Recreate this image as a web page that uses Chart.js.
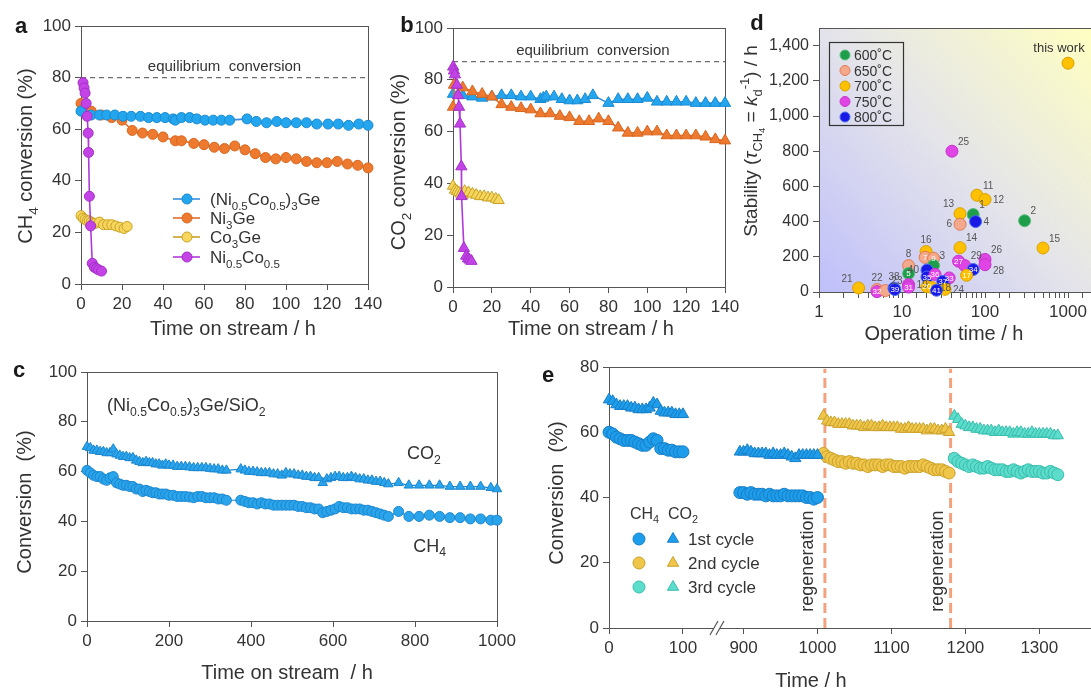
<!DOCTYPE html>
<html>
<head>
<meta charset="utf-8">
<script src="https://cdn.jsdelivr.net/npm/chart.js@4.4.1/dist/chart.umd.min.js"></script>
<style>
  html, body { margin:0; padding:0; background:#fff; width:1091px; height:692px; overflow:hidden; }
  canvas { position:absolute; left:0; top:0; }
</style>
</head>
<body>
<canvas id="panelA" width="1120" height="692"></canvas>
<canvas id="panelB" width="1120" height="692"></canvas>
<canvas id="panelC" width="1120" height="692"></canvas>
<canvas id="panelD" width="1120" height="692"></canvas>
<canvas id="panelE" width="1120" height="692"></canvas>
<script>
// ---------------- data ----------------
// a: CH4 conversion (%) vs time on stream (h)
const aTime_NiCoGe = [0,5,9,12.5,16.5,20.5,24.5,29,33,37,41,45,46,49,53,56.5,60.5,64.5,68.5,72.5,81,85.5,90.5,95.5,100,105,110,115,120.5,125.5,130.5,135.5,140];
const aCH4_NiCoGe  = [67,65.5,65.5,65.5,65.5,65,65,65,64.5,64.5,64.5,64,63.5,64.5,64.5,64,63.5,63.5,63.5,63.5,64,63,62.5,63,62.5,62.5,62.5,62,62,62,61.5,62,61.5];
const aTime_Ni3Ge  = [0,2,5,10,15,20,25,30,35,40,46,49,55,60,65,70,75,80,85,90,95,100,105,110,115,120,125,130,135,140];
const aCH4_Ni3Ge   = [70,68.5,67,65.5,64.5,63.5,59.5,58.5,58,57,55.5,55.5,54.5,54,53,52.5,53.5,52,50.5,49,48.5,49,48.5,47.5,47,47,47.5,46.5,46,45];
const aTime_Co3Ge  = [0,1,2,3,4,5,6,7,9,11,13,15,17,19,21,22.5];
const aCH4_Co3Ge   = [26.5,25.5,25,24.5,24.5,24,23.5,23.5,24,23,23,23,22.5,22,21.5,22.3];
const aTime_NiCo   = [1,1.5,2,2.5,3,3.5,3.7,4.1,4.7,5.5,6.5,7.5,8.5,10];
const aCH4_NiCo    = [78,76,74,70,65,58.5,51,34,22.5,8,6.5,6,5.5,5];
const eqCH4 = 80;

// b: CO2 conversion (%) vs time on stream (h)
const bTime_NiCoGe = [0,5,10,15,20,25,30,35,40,45,46.5,48,52,56,60,64,68,72,80,85,90,95,100,105,110,115,120,125,130,135,140];
const bCO2_NiCoGe  = [74.5,74,73.5,73,73.5,74,74,73.5,73.5,72.5,73,73.5,73.5,72.5,72,72,72.5,74,71,72.5,72.5,72.5,73,71.5,71.5,71.5,71.5,71,71,71,71];
const bTime_Ni3Ge  = [0,0.5,5,10,15,20,25,30,35,40,45,50,55,60,65,70,75,80,85,90,95,100,105,110,115,120,125,130,135,140];
const bCO2_Ni3Ge   = [69.5,78,77,75.5,74.5,73.5,70.5,69.5,69,68.5,67,67,66,65.5,64,64,65,64,61.5,59.5,59.5,60,60,58.5,58.5,58.5,58.5,58,57,56.5];
const bTime_Co3Ge  = [0,1,2,3,4,5,6,8,10,12,14,16,18,20,22,23.5];
const bCO2_Co3Ge   = [39,37.5,37,36.5,36,35.5,37,36.5,36,35.5,35,35,34.5,34.5,34,33.5];
const bTime_NiCo   = [0.1,0.5,1,2,2.6,3.1,3.6,4.3,4.4,5.6,6.8,7.7,8.5,9.5];
const bCO2_NiCo    = [85,83.5,82,78,74,69.5,63,46.5,35,15,12,11,10.5,10];
const eqCO2 = 87;

const catalystNames = ['(Ni_{0.5}Co_{0.5})_{3}Ge', 'Ni_{3}Ge', 'Co_{3}Ge', 'Ni_{0.5}Co_{0.5}'];

// c: 1000 h run of (Ni0.5Co0.5)3Ge/SiO2
const cTime = [0,8,16,24,32,40,48,56,64,72,80,88,96,104,112,120,128,136,144,152,160,168,176,184,192,200,210,220,230,240,250,260,270,280,290,300,310,320,330,340,375,385,395,405,415,425,435,445,455,465,475,485,495,505,515,525,535,545,555,565,575,585,595,605,615,625,635,645,655,665,675,685,695,705,715,725,735,760,785,810,835,860,885,910,935,960,985,1000];
const cCO2  = [70,69.5,68.5,68.5,68,68,67.5,67.5,69,67,66.5,66,66,65.5,65.5,64.5,64,63.5,64,63.5,63.5,63,63,62.5,63,62.5,62.5,62,62,62,61.8,61.5,61.5,61.5,61.5,61.2,61,61,60.5,60.5,61,60.5,60,60,59.8,59.5,59.5,59.5,59,59,58.5,59.5,59,59,58.5,58.5,58,58,57.5,57.5,55.5,57,57.5,58,58,57.5,57.5,58,57.5,57,57,56.5,56.5,56,56,55.5,55,55.5,54.5,54.5,54.5,54.5,54,54,54,54,53.5,53];
const cCH4  = [60.5,59.5,58.5,58,58,57,56.5,57.5,58,55.5,55,54.5,54.5,54,54,53,53,52,52.5,52,51.5,51.5,51,51,51,50.5,50.5,50,50,50,49.8,49.5,50,50,49.5,49.5,49.5,49,49,48.5,48.5,48,47.5,47.5,47,47.5,47,47,46.5,46.5,46.5,46.5,46.5,46.5,46,46,45.5,45.5,45,45,43.5,44,44.5,45,46,45.5,45.5,45,45,45,44.5,44.5,44,43.5,43,42.5,42,44,42,42,42.5,42,41.5,41.5,41,41,40.5,40.5];

// d: stability vs operation time for reported catalysts
const dTime      = [1000,40,80,100,50,72,77,50,300,500,50,19.5,19,24,24,12,12,20,20,25,100,100,48,57,72,60,37,31,12,12,20,23,33,26,3,5,5,6.3,8,8.2];
const dStability = [1300,800,550,525,445,440,400,385,405,250,252,230,197,192,150,150,105,125,85,100,185,155,175,150,128,95,80,60,42,28,30,25,15,10,23,14,2,8,22,14];
const dTemp      = [700,750,700,700,700,600,800,650,600,700,700,700,650,650,600,650,600,800,800,750,750,750,750,750,800,700,750,800,750,750,700,700,700,800,700,650,750,650,800,800];
const dRef       = ['this work','25','11','12','13','1','4','6','2','15','14','16','7','9','3','8','5','40','35','36','26','28','27','29','34','17','33','37','19','31','20','18','24','41','21','22','32','23','38','39'];
const dTemps     = [600,650,700,750,800];
const dStabilityTicks = [0,200,400,600,800,1000,1200,1400];
const dTimeLabels = [1,10,100,1000];

// e: regeneration cycles
const e1Time_a = [0,5,10,15,20,25,30,35,40,45,50,55,60,65,70,75,80,85,90,95,100];
const e1CH4_a  = [60,59.5,58.5,58,57.5,57.5,57.5,57,56.5,56,56,57,58,57.5,55,55,54.5,54.5,54,54,54];
const e1CO2_a  = [70,69.5,68.5,68,68,68,67.5,67.5,67,67,67,67.5,69,68.5,66.5,66,66,66,65.5,65.5,65.5];
const e1Time_b = [895,900,905,910,915,920,925,930,935,940,945,950,955,960,965,970,975,980,985,990,995,1000];
const e1CH4_b  = [41.5,41.5,41,41.5,41,41,41,40.5,41,40.5,40.5,40.5,41,40.5,40.5,40.5,40.5,40.5,40,40,39.5,40];
const e1CO2_b  = [54,54,54.5,54,53.5,53.5,53.5,53.5,53,53.5,53,53,53.5,53,52.5,52,53,53,53,53,53,53];
const e2Time   = [1008,1013,1018,1023,1028,1033,1038,1043,1048,1053,1058,1063,1068,1073,1078,1083,1088,1093,1098,1103,1108,1113,1118,1123,1128,1133,1138,1143,1148,1153,1158,1163,1168,1173,1178];
const e2CH4    = [53.5,52.5,52,51.5,51,51,50.5,51,50.5,50.5,50,50,49.5,50,50,50,49.5,50,50,49.5,49.5,49.5,49,49.5,49.5,49.5,49.5,50,49.5,49,48.5,48.5,48.5,48,47.5];
const e2CO2    = [65,63.5,63,63,62.5,62.5,62.5,62.5,62,62,62,61.5,62,62,61.5,61.5,62,61.5,61.5,61.5,61.5,61,61,61.5,61,61,61,61,60.5,61,61,60.5,60.5,61,60];
const e3Time   = [1185,1190,1195,1200,1205,1210,1215,1220,1225,1230,1235,1240,1245,1250,1255,1260,1265,1270,1275,1280,1285,1290,1295,1300,1305,1310,1315,1320,1325];
const e3CH4    = [52,51,50.5,50,49.5,50,49.5,49,49,49.5,49,48.5,48.5,48.5,48,48,48.5,48,47.5,48,48.5,48,48,48,47.5,47.5,48,47.5,47];
const e3CO2    = [65,64,62.5,62,61.5,61.5,61,61,60.5,60.5,60.5,60,60.5,60,60,60,59.5,60,60,59.5,59.5,60,59.5,59.5,59.5,59.5,59.5,59,59];
const eRegenTimes = [1010, 1180];
const eTickHours  = [0,100,900,1000,1100,1200,1300];
const eCycleNames = ['1st cycle','2nd cycle','3rd cycle'];

// ---------------- styling helpers ----------------
const FONT = '"Liberation Sans", Arial, Helvetica, sans-serif';
const TXT = '#333333';
const AX = '#555555';
const CW = 1120, CH = 692, YW = 50, XH = 30;

const colBlue   = {fill:'#23A6EE', edge:'#1A8AD3', line:'#3A8EDB'};
const colOrange = {fill:'#EE7A30', edge:'#D8661F', line:'#E07030'};
const colYellow = {fill:'#F7D65E', edge:'#C9A226', line:'#C9A226'};
const colPurple = {fill:'#C443E6', edge:'#A52FCB', line:'#B03AD8'};
const tempColors = {600:{fill:'#1E9E4A',edge:'#5DBB7E'},650:{fill:'#F4A98C',edge:'#E07A52'},700:{fill:'#FFC000',edge:'#D9A200'},750:{fill:'#E044E4',edge:'#C636CC'},800:{fill:'#1919E6',edge:'#4A6EF2'}};
const cycleColors = [{fill:'#1E9DEA',edge:'#177EC8'},{fill:'#F0C64A',edge:'#C9A12A'},{fill:'#5CDCCB',edge:'#39BDAE'}];

// break in the time axis of panel e: hours from 900 on are shifted left
function axisPos(t){ return t <= 500 ? t : t - 900 + 182; }

function pts(xs, ys){ return xs.map((x,i)=>({x, y:ys[i]})); }

function parseRich(s){
  const runs=[]; let i=0, buf='';
  const map={'_':'sub','^':'sup','*':'it','~':'subsub'};
  while(i<s.length){
    const c=s[i];
    if(map[c] && s[i+1]==='{'){
      if(buf) runs.push({t:buf,m:'n'}); buf='';
      const j=s.indexOf('}',i+2);
      runs.push({t:s.slice(i+2,j), m:map[c]});
      i=j+1;
    } else { buf+=c; i++; }
  }
  if(buf) runs.push({t:buf,m:'n'});
  return runs;
}
function drawRich(ctx, s, x, y, size, align, color, weight){
  align = align||'center'; color = color||TXT; weight = weight||'normal';
  const runs = parseRich(s).map(r=>{
    let sz=size, dy=0, st='';
    if(r.m==='sub'){ sz=size*0.68; dy=size*0.27; }
    if(r.m==='subsub'){ sz=size*0.5; dy=size*0.42; }
    if(r.m==='sup'){ sz=size*0.68; dy=-size*0.4; }
    if(r.m==='it'){ st='italic '; }
    return Object.assign(r,{font:`${st}${weight} ${sz}px ${FONT}`, dy});
  });
  ctx.save();
  ctx.fillStyle=color; ctx.textBaseline='alphabetic'; ctx.textAlign='left';
  let w=0; runs.forEach(r=>{ ctx.font=r.font; r.w=ctx.measureText(r.t).width; w+=r.w; });
  let cx = align==='center' ? x-w/2 : (align==='right' ? x-w : x);
  const base = y + size*0.36;
  runs.forEach(r=>{ ctx.font=r.font; ctx.fillText(r.t, cx, base+r.dy); cx+=r.w; });
  ctx.restore();
}
function drawRichRot(ctx, s, x, y, size, color){
  ctx.save(); ctx.translate(x,y); ctx.rotate(-Math.PI/2);
  drawRich(ctx, s, 0, 0, size, 'center', color);
  ctx.restore();
}
function marker(ctx, style, r, x, y, fill, edge, bw){
  ctx.save(); ctx.fillStyle=fill; ctx.strokeStyle=edge; ctx.lineWidth=bw||1;
  Chart.helpers.drawPoint(ctx, {pointStyle:style, radius:r, borderWidth:bw||1, rotation:0}, x, y);
  ctx.restore();
}
function panelLetter(ctx, ch, x, y){
  ctx.save(); ctx.fillStyle='#1a1a1a'; ctx.font=`bold 22px ${FONT}`;
  ctx.textAlign='center'; ctx.textBaseline='middle'; ctx.fillText(ch, x, y); ctx.restore();
}

function axis(type, min, max, step, extra){
  return Object.assign({
    type, min, max,
    ticks:{stepSize:step, color:TXT, font:{family:FONT,size:17}, padding:4, autoSkip:false, maxRotation:0, minRotation:0,
      callback: v => String(v)},
    grid:{drawOnChartArea:false, drawTicks:true, tickLength:6, tickColor:AX, tickWidth:1},
    border:{display:true, color:AX, width:1}
  }, extra||{});
}

const framePlugin = {
  id:'frame',
  beforeDatasetsDraw(chart){
    const a=chart.chartArea, ctx=chart.ctx;
    ctx.save(); ctx.strokeStyle=AX; ctx.lineWidth=1;
    ctx.strokeRect(Math.round(a.left)+0.5, Math.round(a.top)+0.5, Math.round(a.right-a.left), Math.round(a.bottom-a.top));
    ctx.restore();
  }
};

function makeChart(id, area, datasets, scales, plugins){
  scales.x.afterFit = s => { s.height = XH; };
  scales.y.afterFit = s => { s.width = YW; };
  return new Chart(document.getElementById(id), {
    type:'scatter',
    data:{datasets},
    options:{
      responsive:false, animation:false, devicePixelRatio:1, events:[],
      layout:{padding:{left:area.l-YW, top:area.t, right:CW-area.r, bottom:CH-area.b-XH}},
      plugins:{legend:{display:false}, tooltip:{enabled:false}},
      scales
    },
    plugins:[framePlugin].concat(plugins||[])
  });
}

function lineSeries(xs, ys, col, style, r){
  return {data:pts(xs,ys), showLine:true, borderColor:col.line, borderWidth:1.6,
    pointBackgroundColor:col.fill, pointBorderColor:col.edge, pointBorderWidth:1,
    pointRadius:r, pointStyle:style, clip:false};
}
function eqLine(x0, x1, v){
  return {data:[{x:x0,y:v},{x:x1,y:v}], showLine:true, borderColor:'#6e6e6e', borderWidth:1.2, borderDash:[5,4], pointRadius:0, clip:false};
}
const seriesCols = [colBlue, colOrange, colYellow, colPurple];

// ---------------- panel a ----------------
makeChart('panelA', {l:81, t:26, r:368, b:284}, [
  lineSeries(aTime_NiCo, aCH4_NiCo, colPurple, 'circle', 5),
  lineSeries(aTime_NiCoGe, aCH4_NiCoGe, colBlue, 'circle', 5),
  lineSeries(aTime_Ni3Ge, aCH4_Ni3Ge, colOrange, 'circle', 5),
  lineSeries(aTime_Co3Ge, aCH4_Co3Ge, colYellow, 'circle', 5),
  eqLine(0, 140, eqCH4)
], {x:axis('linear',0,140,20), y:axis('linear',0,100,20)}, [{
  id:'decoA',
  afterDraw(chart){
    const ctx=chart.ctx, a=chart.chartArea, sx=chart.scales.x, sy=chart.scales.y;
    drawRich(ctx, 'equilibrium  conversion', sx.getPixelForValue(70), sy.getPixelForValue(eqCH4)-12, 15);
    const rows=[199,218,237,257];
    catalystNames.forEach((n,i)=>{
      const c=seriesCols[i], y=rows[i];
      ctx.save(); ctx.strokeStyle=c.line; ctx.lineWidth=1.6;
      ctx.beginPath(); ctx.moveTo(a.left+92,y); ctx.lineTo(a.left+119,y); ctx.stroke(); ctx.restore();
      marker(ctx,'circle',5,a.left+106,y,c.fill,c.edge);
      drawRich(ctx, n, a.left+129, y, 17, 'left');
    });
    drawRichRot(ctx, 'CH_{4} conversion (%)', 25, 156, 20);
    drawRich(ctx, 'Time on stream / h', 233, 328, 20);
    panelLetter(ctx, 'a', 21, 27);
  }
}]);

// ---------------- panel b ----------------
makeChart('panelB', {l:453, t:28, r:725, b:287}, [
  lineSeries(bTime_NiCo, bCO2_NiCo, colPurple, 'triangle', 6.5),
  lineSeries(bTime_Ni3Ge, bCO2_Ni3Ge, colOrange, 'triangle', 6.5),
  lineSeries(bTime_NiCoGe, bCO2_NiCoGe, colBlue, 'triangle', 6.5),
  lineSeries(bTime_Co3Ge, bCO2_Co3Ge, colYellow, 'triangle', 6.5),
  eqLine(0, 140, eqCO2)
], {x:axis('linear',0,140,20), y:axis('linear',0,100,20)}, [{
  id:'decoB',
  afterDraw(chart){
    const ctx=chart.ctx, sx=chart.scales.x, sy=chart.scales.y;
    drawRich(ctx, 'equilibrium  conversion', sx.getPixelForValue(72), sy.getPixelForValue(eqCO2)-12, 15);
    drawRichRot(ctx, 'CO_{2} conversion (%)', 398, 162, 20);
    drawRich(ctx, 'Time on stream / h', 591, 328, 20);
    panelLetter(ctx, 'b', 407, 26);
  }
}]);

// ---------------- panel c ----------------
const colC = {fill:'#2AA5EC', edge:'#1B86CF', line:'#1E88D0'};
makeChart('panelC', {l:87, t:372, r:497, b:621}, [
  Object.assign(lineSeries(cTime, cCH4, colC, 'circle', 5), {borderWidth:1.2}),
  Object.assign(lineSeries(cTime, cCO2, colC, 'triangle', 5.5), {borderWidth:1.2})
], {x:axis('linear',0,1000,200), y:axis('linear',0,100,20)}, [{
  id:'decoC',
  afterDraw(chart){
    const ctx=chart.ctx, a=chart.chartArea, sx=chart.scales.x, sy=chart.scales.y;
    drawRich(ctx, '(Ni_{0.5}Co_{0.5})_{3}Ge/SiO_{2}', a.left+20, a.top+33, 18, 'left');
    drawRich(ctx, 'CO_{2}', sx.getPixelForValue(822), sy.getPixelForValue(67.5), 18);
    drawRich(ctx, 'CH_{4}', sx.getPixelForValue(836), sy.getPixelForValue(30.5), 18);
    drawRichRot(ctx, 'Conversion  (%)', 24, 502, 20);
    drawRich(ctx, 'Time on stream  / h', 287, 672, 20);
    panelLetter(ctx, 'c', 19, 371);
  }
}]);

// ---------------- panel d ----------------
const dLabelPlace = {'this work':'top','25':'ne','11':'ne','12':'e','13':'nw','1':'ne','4':'e','6':'w','2':'ne','15':'ne','14':'ne','16':'n','8':'n','3':'ne','40':'w','26':'ne','28':'se','29':'ne','19':'e','21':'nw','22':'n','23':'ne','38':'n','24':'e','18':'e'};
const dAxisX = axis('logarithmic', 1, 2000, undefined);
dAxisX.ticks.callback = v => (dTimeLabels.includes(v) ? String(v) : '');
const dAxisY = axis('linear', 0, 1500, 200);
dAxisY.ticks.callback = v => v.toLocaleString('en-US');
dAxisY.ticks.font = {family:FONT, size:16};
dAxisY.afterBuildTicks = s => { s.ticks = dStabilityTicks.map(v => ({value:v})); };
makeChart('panelD', {l:819, t:28, r:1093, b:292}, [{
  data: pts(dTime, dStability),
  pointRadius:6, pointBorderWidth:1,
  pointBackgroundColor: ctx => tempColors[dTemp[ctx.dataIndex]].fill,
  pointBorderColor: ctx => tempColors[dTemp[ctx.dataIndex]].edge,
  clip:false
}], {x:dAxisX, y:dAxisY}, [{
  id:'decoD',
  beforeDraw(chart){
    const ctx=chart.ctx, a=chart.chartArea;
    const g=ctx.createLinearGradient(a.left, a.bottom, a.right, a.top);
    g.addColorStop(0,'#bfbffb'); g.addColorStop(0.5,'#e4e4ea'); g.addColorStop(1,'#ffffc2');
    ctx.save(); ctx.fillStyle=g; ctx.fillRect(a.left, a.top, a.right-a.left, a.bottom-a.top); ctx.restore();
  },
  afterDatasetsDraw(chart){
    const ctx=chart.ctx, meta=chart.getDatasetMeta(0);
    meta.data.forEach((p,i)=>{
      const ref=dRef[i], place=dLabelPlace[ref]||'in';
      ctx.save(); ctx.textBaseline='middle';
      if(place==='in'){
        ctx.fillStyle='#ffffff'; ctx.font=`8px ${FONT}`; ctx.textAlign='center';
        ctx.fillText(ref, p.x, p.y+0.5);
      } else if(place==='top'){
        ctx.fillStyle='#333'; ctx.font=`13px ${FONT}`; ctx.textAlign='center';
        ctx.fillText(ref, p.x-9, p.y-15);
      } else {
        ctx.fillStyle='#555'; ctx.font=`10px ${FONT}`;
        const off={ne:[6,-9,'left'], n:[0,-11,'center'], e:[8,1,'left'], w:[-8,0,'right'], nw:[-6,-9,'right'], se:[8,7,'left']}[place];
        ctx.textAlign=off[2]; ctx.fillText(ref, p.x+off[0], p.y+off[1]);
      }
      ctx.restore();
    });
  },
  afterDraw(chart){
    const ctx=chart.ctx, a=chart.chartArea;
    ctx.save(); ctx.strokeStyle='#333'; ctx.lineWidth=1.2;
    ctx.strokeRect(a.left+10.5, a.top+14.5, 74, 83); ctx.restore();
    dTemps.forEach((t,i)=>{
      const y=a.top+27+i*15.5;
      marker(ctx,'circle',5,a.left+26,y,tempColors[t].fill,tempColors[t].edge);
      drawRich(ctx, t+'˚C', a.left+35, y, 14, 'left');
    });
    drawRichRot(ctx, 'Stability (*{τ}_{CH}~{4} = *{k}_{d}^{-1}) / h', 750, 141, 19);
    drawRich(ctx, 'Operation time / h', 944, 333, 20);
    panelLetter(ctx, 'd', 757, 24);
  }
}]);

// ---------------- panel e ----------------
function eSeries(xs, ys, col, style, r){
  return {data:xs.map((t,i)=>({x:axisPos(t), y:ys[i]})), showLine:false,
    pointBackgroundColor:col.fill, pointBorderColor:col.edge, pointBorderWidth:1,
    pointRadius:r, pointStyle:style, clip:false};
}
const eAxisX = axis('linear', 0, 660, 100);
eAxisX.afterBuildTicks = s => { s.ticks = eTickHours.map(h => ({value:axisPos(h)})); };
eAxisX.ticks.callback = (v, i) => String(eTickHours[i]);
const eAxisY = axis('linear', 0, 80, 20);
const eRegen = eRegenTimes.map(t => ({data:[{x:axisPos(t),y:0},{x:axisPos(t),y:79.5}], showLine:true,
  borderColor:'#F4A27E', borderWidth:3, borderDash:[10,5], pointRadius:0, clip:false}));
makeChart('panelE', {l:609, t:367, r:1097, b:628}, [
  eSeries(e1Time_a, e1CH4_a, cycleColors[0], 'circle', 6),
  eSeries(e1Time_a, e1CO2_a, cycleColors[0], 'triangle', 6.5),
  eSeries(e1Time_b, e1CH4_b, cycleColors[0], 'circle', 6),
  eSeries(e1Time_b, e1CO2_b, cycleColors[0], 'triangle', 6.5),
  eSeries(e2Time, e2CH4, cycleColors[1], 'circle', 6),
  eSeries(e2Time, e2CO2, cycleColors[1], 'triangle', 6.5),
  eSeries(e3Time, e3CH4, cycleColors[2], 'circle', 6),
  eSeries(e3Time, e3CO2, cycleColors[2], 'triangle', 6.5)
].concat(eRegen), {x:eAxisX, y:eAxisY}, [{
  id:'decoE',
  afterDraw(chart){
    const ctx=chart.ctx, a=chart.chartArea, sx=chart.scales.x, sy=chart.scales.y;
    // axis break marks
    const bx=sx.getPixelForValue(146), by=a.bottom;
    ctx.save();
    ctx.fillStyle='#fff'; ctx.fillRect(bx-3, by-2, 6, 4);
    ctx.strokeStyle=AX; ctx.lineWidth=1.2;
    [-3,3].forEach(d=>{ ctx.beginPath(); ctx.moveTo(bx+d-4, by+7); ctx.lineTo(bx+d+4, by-7); ctx.stroke(); });
    ctx.restore();
    // regeneration labels
    eRegenTimes.forEach((t,i)=>{
      drawRichRot(ctx, 'regeneration', sx.getPixelForValue(axisPos(t)) - (i===0?18:14), sy.getPixelForValue(20.5), 18);
    });
    // legend
    drawRich(ctx, 'CH_{4}  CO_{2}', a.left+21, a.top+146, 16, 'left');
    eCycleNames.forEach((n,i)=>{
      const y=a.top+172+i*24, c=cycleColors[i];
      marker(ctx,'circle',6,a.left+30,y,c.fill,c.edge);
      marker(ctx,'triangle',6.5,a.left+64,y,c.fill,c.edge);
      drawRich(ctx, n, a.left+79, y, 17, 'left');
    });
    drawRichRot(ctx, 'Conversion  (%)', 556, 493, 20);
    drawRich(ctx, 'Time / h', 811, 680, 20);
    panelLetter(ctx, 'e', 548, 376);
  }
}]);
</script>
</body>
</html>
